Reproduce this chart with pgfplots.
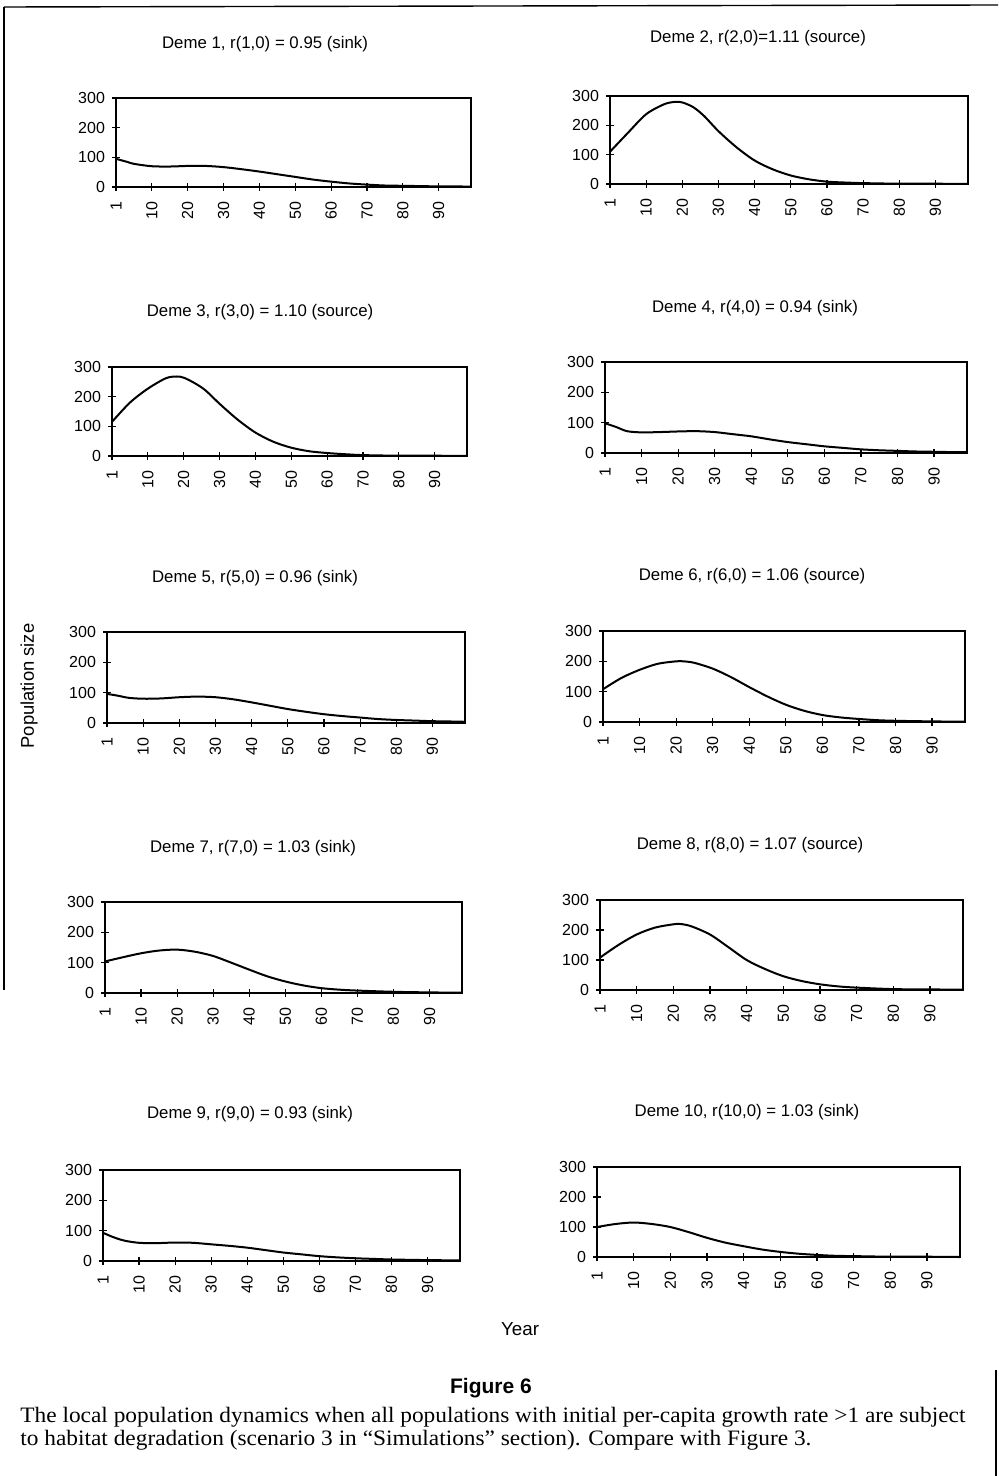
\documentclass[border=0pt]{standalone}
\usepackage{pgfplots}
\pgfplotsset{compat=1.18}
\usepackage{pgfplotstable}
\usepackage{fontspec}
\setmainfont{Liberation Sans}
\newfontfamily\capserif{Liberation Serif}
\def\s{0.5pt}
\newlength\lA
\newcommand\capA{The local population dynamics when all populations with initial per-capita growth rate >1 are subject}
\newcommand\capB{to habitat degradation (scenario 3 in “Simulations” section). Compare with Figure 3.}
\newcommand\capfont{\capserif\fontsize{11}{13}\selectfont}

\pgfplotstableread{
x y
0 95
3 85
5 78
10 70
15 69
20 71
25 71
30 67
35 60
40 52
45 43
50 34
55 25
60 18
65 12
70 8
75 5
80 4
85 3
90 2
95 2
99 1
}\demeA
\pgfplotstableread{
x y
0 110
5 175
10 238
15 272
18 280
20 278
23 262
26 232
30 180
35 125
40 80
45 50
50 29
55 16
60 8
65 5
70 3
80 1
90 1
99 0
}\demeB
\pgfplotstableread{
x y
0 115
5 180
10 227
15 262
18 268
20 264
23 246
26 222
30 176
35 123
40 79
45 48
50 28
55 16
60 10
65 6
70 3
80 1
90 1
99 0
}\demeC
\pgfplotstableread{
x y
0 98
3 86
6 72
10 68
15 69
20 71
25 72
30 69
35 62
40 55
45 45
50 36
55 29
60 22
65 17
70 12
75 9
80 7
85 5
90 4
95 3
99 3
}\demeD
\pgfplotstableread{
x y
0 96
3 90
6 83
10 80
15 81
20 85
25 87
30 85
35 78
40 68
45 57
50 46
55 37
60 29
65 23
70 18
75 13
80 10
85 8
90 6
95 5
99 4
}\demeE
\pgfplotstableread{
x y
0 108
5 145
10 172
15 192
20 200
22 200
25 195
30 176
35 148
40 115
45 84
50 57
55 37
60 23
65 15
70 10
75 6
80 4
90 2
99 1
}\demeF
\pgfplotstableread{
x y
0 104
5 118
10 131
15 140
20 143
25 136
30 122
35 100
40 77
45 55
50 38
55 25
60 16
65 11
70 8
80 4
90 2
99 1
}\demeG
\pgfplotstableread{
x y
0 108
5 150
10 185
15 208
20 219
22 220
25 212
30 185
35 143
40 100
45 70
50 46
55 30
60 19
65 12
70 8
80 3
90 2
99 1
}\demeH
\pgfplotstableread{
x y
0 93
3 78
6 67
10 60
15 59
20 61
25 60
30 55
35 50
40 44
45 36
50 28
55 22
60 16
65 12
70 9
75 7
80 5
90 3
99 2
}\demeI
\pgfplotstableread{
x y
0 100
5 110
10 115
15 110
20 100
25 83
30 64
35 48
40 36
45 25
50 17
55 11
60 7
65 4
70 3
80 1
90 1
99 0
}\demeJ

\pgfplotsset{
  deme/.style={
    scale only axis, anchor=south west,
    xmin=0, xmax=99, ymin=0, ymax=300,
    xtick={0,10,20,30,40,50,60,70,80,90},
    xticklabels={1,10,20,30,40,50,60,70,80,90},
    ytick={0,100,200,300},
    xtick pos=bottom, ytick pos=left,
    tick align=center, major tick length=4pt,
    axis line style={line width=0.6pt},
    every tick/.style={black, line width=0.6pt},
    tick label style={font=\fontsize{8}{9}\selectfont},
    x tick label style={rotate=90, anchor=east, xshift=-2pt},
    /pgf/number format/assume math mode=true,
    clip=false,
  },
  curve/.style={black, line width=1pt, smooth, no markers},
}

\newcommand\panel[4]{%
  \begin{axis}[deme, at={#1}, width=#2, height=#3]
    \addplot[curve] table[x=x, y=y] {#4};
  \end{axis}}

\begin{document}%
\settowidth{\lA}{\capfont\capA}%
\pgfmathsetmacro\kk{472.5pt/\lA}%
\begin{tikzpicture}
% frame of the scanned page
\draw[line width=0.7pt] (4*\s,-7*\s) -- (998*\s,-5*\s);
\draw[line width=0.7pt] (4*\s,-7*\s) -- (4*\s,-990*\s);
\draw[line width=0.7pt] (996*\s,-1370*\s) -- (996*\s,-1476*\s);

\def\tfont{\fontsize{8.4}{10}\selectfont}

\panel{(58pt,-93.5pt)}{177.5pt}{44.5pt}{\demeA}
\node[font=\tfont] at (265*\s,-44*\s) {Deme 1, r(1,0) = 0.95 (sink)};
\panel{(305pt,-92pt)}{179pt}{44pt}{\demeB}
\node[font=\tfont] at (758*\s,-38*\s) {Deme 2, r(2,0)=1.11 (source)};
\panel{(56pt,-228pt)}{177.5pt}{44.5pt}{\demeC}
\node[font=\tfont] at (260*\s,-312*\s) {Deme 3, r(3,0) = 1.10 (source)};
\panel{(302.5pt,-226.5pt)}{181pt}{45.5pt}{\demeD}
\node[font=\tfont] at (755*\s,-308*\s) {Deme 4, r(4,0) = 0.94 (sink)};
\panel{(53.5pt,-361.5pt)}{179pt}{45.5pt}{\demeE}
\node[font=\tfont] at (255*\s,-578*\s) {Deme 5, r(5,0) = 0.96 (sink)};
\panel{(301.5pt,-361pt)}{181pt}{45.5pt}{\demeF}
\node[font=\tfont] at (752*\s,-576*\s) {Deme 6, r(6,0) = 1.06 (source)};
\panel{(52.5pt,-496.5pt)}{178.5pt}{45.5pt}{\demeG}
\node[font=\tfont] at (253*\s,-848*\s) {Deme 7, r(7,0) = 1.03 (sink)};
\panel{(300pt,-495pt)}{181.5pt}{45pt}{\demeH}
\node[font=\tfont] at (750*\s,-845*\s) {Deme 8, r(8,0) = 1.07 (source)};
\panel{(51.5pt,-630.5pt)}{178.5pt}{45.5pt}{\demeI}
\node[font=\tfont] at (250*\s,-1114*\s) {Deme 9, r(9,0) = 0.93 (sink)};
\panel{(298.5pt,-628.5pt)}{181.5pt}{45pt}{\demeJ}
\node[font=\tfont] at (747*\s,-1112*\s) {Deme 10, r(10,0) = 1.03 (sink)};

\node[rotate=90, font=\fontsize{9.2}{11}\selectfont] at (29*\s,-686*\s) {Population size};
\node[font=\fontsize{9.4}{11}\selectfont] at (520*\s,-1329*\s) {Year};

\node[font=\fontsize{10.5}{12}\selectfont\bfseries] at (491*\s,-1388*\s) {Figure 6};

\node[anchor=base west, inner sep=0pt] at (20*\s,-1422*\s)
  {\scalebox{\kk}[1]{\capfont\capA}};
\node[anchor=base west, inner sep=0pt] at (20*\s,-1445*\s)
  {\scalebox{\kk}[1]{\capfont\capB}};

\pgfresetboundingbox
\path[use as bounding box] (0,0) rectangle (998*\s,-1476*\s);
\end{tikzpicture}%
\end{document}
